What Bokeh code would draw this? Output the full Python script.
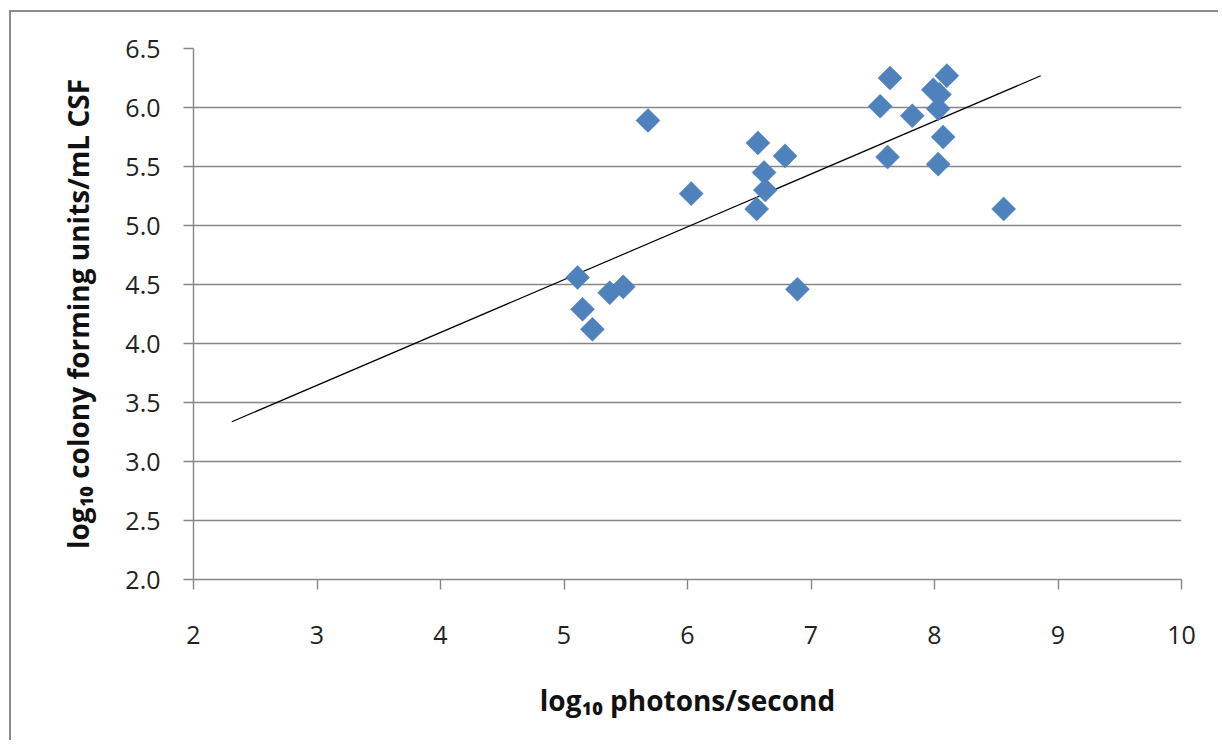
import numpy as np
from bokeh.plotting import figure
from bokeh.models import ColumnDataSource, FixedTicker, NumeralTickFormatter, Range1d
from bokeh.embed import file_html
from bokeh.resources import INLINE

# data
photons = [5.11, 5.15, 5.23, 5.37, 5.48, 5.68, 6.03, 6.57, 6.56, 6.62, 6.63, 6.79,
           6.89, 7.56, 7.64, 7.62, 7.82, 8.10, 7.99, 8.04, 8.03, 8.07, 8.03, 8.56]
cfu = [4.56, 4.29, 4.12, 4.43, 4.48, 5.89, 5.27, 5.70, 5.14, 5.45, 5.30, 5.59,
       4.46, 6.01, 6.25, 5.58, 5.93, 6.27, 6.15, 6.11, 5.99, 5.75, 5.52, 5.14]
trend_x_span = [2.31, 8.86]
x_ticks = [2, 3, 4, 5, 6, 7, 8, 9, 10]
y_ticks = [2.0, 2.5, 3.0, 3.5, 4.0, 4.5, 5.0, 5.5, 6.0, 6.5]

slope, intercept = np.polyfit(photons, cfu, 1)
trend_x = list(trend_x_span)
trend_y = [slope * v + intercept for v in trend_x]

FONT = "Open Sans"

p = figure(width=1209, height=730, output_backend="svg", toolbar_location=None,
           x_range=Range1d(2, 10), y_range=Range1d(2.0, 6.5),
           min_border_left=182, min_border_right=39, min_border_top=36,
           min_border_bottom=163,
           styles={"border-left": "2px solid #8c8c8c", "border-top": "2px solid #8c8c8c",
                   "margin-left": "9px", "margin-top": "10px"})
p.outline_line_color = None
p.background_fill_color = "white"
p.border_fill_color = "white"

p.xgrid.grid_line_color = None
p.ygrid.grid_line_color = "#868686"
p.ygrid.grid_line_width = 1.4
p.ygrid.ticker = FixedTicker(ticks=y_ticks)

p.xaxis.ticker = FixedTicker(ticks=x_ticks)
p.yaxis.ticker = FixedTicker(ticks=y_ticks)
p.yaxis.formatter = NumeralTickFormatter(format="0.0")

for ax in (p.xaxis, p.yaxis):
    ax.axis_line_color = "#868686"
    ax.axis_line_width = 1.4
    ax.major_tick_line_color = "#868686"
    ax.major_tick_line_width = 1.4
    ax.major_tick_out = 10
    ax.major_tick_in = 0
    ax.minor_tick_line_color = None
    ax.major_label_text_font = FONT
    ax.major_label_text_font_size = "25px"
    ax.major_label_text_color = "#222222"
    ax.axis_label_text_font = FONT
    ax.axis_label_text_font_style = "bold"
    ax.axis_label_text_color = "#111111"
    ax.axis_label_text_font_size = "28px"

p.xaxis.major_label_standoff = 36
p.yaxis.major_label_standoff = 23
p.xaxis.axis_label = "log₁₀ photons/second"
p.yaxis.axis_label = "log₁₀ colony forming units/mL CSF"
p.xaxis.axis_label_standoff = 34
p.yaxis.axis_label_standoff = 25

p.line(trend_x, trend_y, line_color="black", line_width=1.2)

src = ColumnDataSource(dict(x=photons, y=cfu))
p.scatter("x", "y", source=src, marker="square", size=17, angle=np.pi / 4,
          fill_color="#4F81BD", line_color="#4F81BD", line_width=0.5)

open("out.html", "w").write(file_html(p, INLINE))
